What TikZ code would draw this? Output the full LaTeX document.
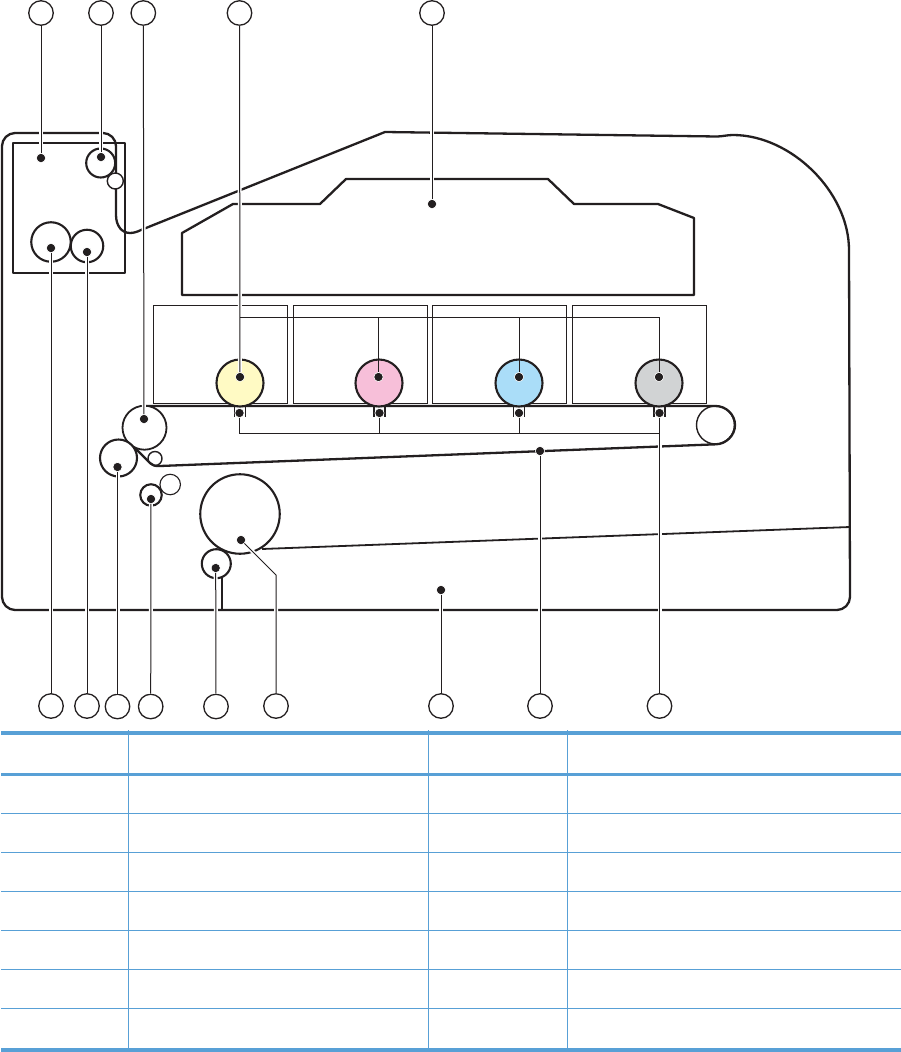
\documentclass[tikz,border=0pt]{standalone}
\definecolor{tbl}{RGB}{88,160,214}
\definecolor{ink}{RGB}{35,31,32}
\definecolor{tyellow}{RGB}{255,250,196}
\definecolor{tpink}{RGB}{247,191,217}
\definecolor{tblue}{RGB}{170,221,248}
\definecolor{tgrey}{RGB}{209,211,212}
\tikzset{
  body/.style={draw=ink,line width=2.3pt,line join=round},
  thinbox/.style={draw=ink,line width=0.9pt},
  roller/.style={circle,draw=ink,line width=2.1pt,fill=white,inner sep=0pt},
  idler/.style={circle,draw=ink,line width=1.1pt,fill=white,inner sep=0pt},
  callout/.style={circle,draw=ink,line width=1.3pt,fill=white,inner sep=0pt,minimum size=24.5pt},
  pin/.style={circle,fill=ink,draw=white,line width=0.7pt,inner sep=0pt,minimum size=9pt},
  leaderline/.style={draw=ink,line width=1pt},
  leader/.style={draw=ink,line width=1pt,preaction={draw=white,line width=4pt}},
  rulethick/.style={draw=tbl,line width=3.6pt},
  rulemid/.style={draw=tbl,line width=3pt},
  rulethin/.style={draw=tbl,line width=1.1pt}
}
\begin{document}
\begin{tikzpicture}[x=1pt,y=-1pt]
\useasboundingbox (0,0) rectangle (901,1052);
% housing
\draw[body] (2,597) -- (2,146) .. controls (2,139) and (8,133) .. (15,133) -- (103,133)
  .. controls (110,133) and (116,139) .. (116,146) -- (116,215)
  .. controls (116,226) and (122,233) .. (130,233) .. controls (134,233) and (138,231.5) .. (141,230)
  -- (385,132) -- (717,136.5) .. controls (722,136.5) and (727,135) .. (733,135)
  .. controls (791,135) and (849,192) .. (849,250) -- (850,597)
  .. controls (850,604) and (844,610) .. (837,610) -- (15,610)
  .. controls (8,610) and (2,604) .. (2,597) -- cycle;
% fuser box
\draw[body] (13,143) rectangle (125,273);
% laser box
\draw[body] (182,233) -- (233,204) -- (320,204) -- (346,179) -- (548,179) -- (574,204) -- (658,204) -- (694,218) -- (694,295) -- (182,295) -- cycle;
% cartridges
\draw[thinbox] (153,305) rectangle (287,403);
\draw[thinbox] (293,305) rectangle (427,403);
\draw[thinbox] (432,305) rectangle (566,403);
\draw[thinbox] (572,305) rectangle (706,403);
% tray line and stub
\draw[body,line width=1.8pt] (262,549) -- (850,527);
\draw[body,line width=2.2pt] (222,577) -- (222,610);
% fuser rollers
\node[roller,minimum size=29pt] (fuserA) at (100.7,163) {};
\node[idler,line width=1.4pt,minimum size=16pt] (exitIdler) at (115.3,181) {};
\node[roller,minimum size=39.5pt] (fuserB) at (51,242) {};
\node[roller,minimum size=32.5pt] (fuserC) at (87,246) {};
% belt
\node[idler,line width=1.4pt,minimum size=38pt] (beltEnd) at (715.5,425) {};
\node[idler,line width=1.4pt,minimum size=14pt] (beltIdler) at (155,458.5) {};
\draw[body] (146,406) -- (715.5,406) .. controls (726,406) and (735,414.5) .. (735,425)
  .. controls (735,435.5) and (726,444) .. (716,444.3) -- (160,466)
  .. controls (155,466.5) and (152,465) .. (150,463) -- (135,448);
\node[roller,line width=1.8pt,minimum size=44pt] (beltRoller) at (144.5,427.7) {};
\node[roller,minimum size=37pt] (transfer) at (118.5,458) {};
% pickup
\node[idler,minimum size=20.5pt] (pickIdler) at (170.2,484.5) {};
\node[roller,minimum size=21.5pt] (pick) at (151,495) {};
\node[roller,minimum size=79.5pt] (drum) at (240,514) {};
\node[roller,minimum size=29pt] (feed) at (216.3,563.7) {};
% drums
\node[roller,fill=tyellow,minimum size=47pt] (drumY) at (240,383) {};
\node[roller,fill=tpink,minimum size=47pt] (drumM) at (379,383) {};
\node[roller,fill=tblue,minimum size=47pt] (drumC) at (519,383) {};
\node[roller,fill=tgrey,minimum size=47pt] (drumK) at (659,383) {};
% primary transfer brackets
\foreach \xx in {240,379.5,519,659.5}{
  \draw[body,line width=1.6pt] (\xx-5.5,407) -- (\xx-5.5,416.5);
  \draw[body,line width=1.6pt] (\xx+5.5,407) -- (\xx+5.5,416.5);
}
% pins
\node[pin] (pFuser) at (41,158) {};
\node[pin] (pFuserA) at (101,157) {};
\node[pin] (pFuserB) at (51,248) {};
\node[pin] (pFuserC) at (87,252) {};
\node[pin] (pLaser) at (432,204) {};
\node[pin] (pBeltRoller) at (144,419) {};
\node[pin] (pTransfer) at (117.5,467) {};
\node[pin] (pPick) at (151,499) {};
\node[pin] (pFeed) at (215.7,568) {};
\node[pin] (pDrum) at (241,540) {};
\node[pin] (pTray) at (441,590) {};
\node[pin] (pBelt) at (540,451) {};
\node[pin] (tY) at (240,377) {};
\node[pin] (tM) at (378.5,377) {};
\node[pin] (tC) at (519,377) {};
\node[pin] (tK) at (659,377) {};
\node[pin] (bY) at (239.5,413) {};
\node[pin] (bM) at (379.5,413) {};
\node[pin] (bC) at (519,413) {};
\node[pin] (bK) at (659.5,413) {};
% callouts
\node[callout] (c1) at (41,13) {};
\node[callout] (c2) at (101,13) {};
\node[callout] (c3) at (143.3,13) {};
\node[callout] (c4) at (239.5,13) {};
\node[callout] (c5) at (432,13) {};
\node[callout] (d1) at (51,706) {};
\node[callout] (d2) at (87,706) {};
\node[callout] (d3) at (117.5,706.5) {};
\node[callout] (d4) at (150.7,706.5) {};
\node[callout] (d5) at (216,706.5) {};
\node[callout] (d6) at (276,706) {};
\node[callout] (d7) at (441,706) {};
\node[callout] (d8) at (540,706) {};
\node[callout] (d9) at (659.5,706) {};
% free junctions
\coordinate (jTop) at (240,317);
\coordinate (jTopM) at (378.5,317);
\coordinate (jTopC) at (519,317);
\coordinate (jTopK) at (659,317);
\coordinate (jBot) at (239.5,433);
\coordinate (jBotM) at (379.5,433);
\coordinate (jBotC) at (519,433);
\coordinate (jBotK) at (659.5,433);
\coordinate (jDrum) at (276,575);
% leaders
\path[leader] (c1) -- (pFuser);
\path[leader] (c2) -- (pFuserA);
\path[leader] (c3) -- (pBeltRoller);
\path[leader] (c4) -- (tY);
\path[leader] (c5) -- (pLaser);
\path[leader] (d1) -- (pFuserB);
\path[leader] (d2) -- (pFuserC);
\path[leader] (d3) -- (pTransfer);
\path[leader] (d4) -- (pPick);
\path[leader] (d5) -- (pFeed);
\path[leader] (d6) -- (jDrum) -- (pDrum);
\path[leader] (d7) -- (pTray);
\path[leader] (d8) -- (pBelt);
\path[leader] (d9) -- (bK);
\path[leaderline] (jTop) -- (jTopK) -- (tK);
\path[leaderline] (jTopM) -- (tM);
\path[leaderline] (jTopC) -- (tC);
\path[leaderline] (bY) -- (jBot) -- (jBotK);
\path[leaderline] (bM) -- (jBotM);
\path[leaderline] (bC) -- (jBotC);
% pin discs above halos
\foreach \x/\y in {41/158,101/157,51/248,87/252,432/204,144/419,117.5/467,151/499,215.7/568,241/540,441/590,540/451,240/377,378.5/377,519/377,659/377,239.5/413,379.5/413,519/413,659.5/413}{
  \fill[ink] (\x,\y) circle[radius=4pt];
}
% table
\path[rulethin] (128.5,730) -- (128.5,1048);
\path[rulethin] (428.5,730) -- (428.5,1048);
\path[rulethin] (567.5,730) -- (567.5,1048);
\foreach \yy in {813.3,852.5,891.3,930.3,969.3,1008.3}{
  \path[rulethin] (1,\yy) -- (901,\yy);
}
\path[rulethick] (1,732.7) -- (901,732.7);
\path[rulemid] (1,774.3) -- (901,774.3);
\path[rulethick] (1,1049.8) -- (901,1049.8);
\end{tikzpicture}
\end{document}
